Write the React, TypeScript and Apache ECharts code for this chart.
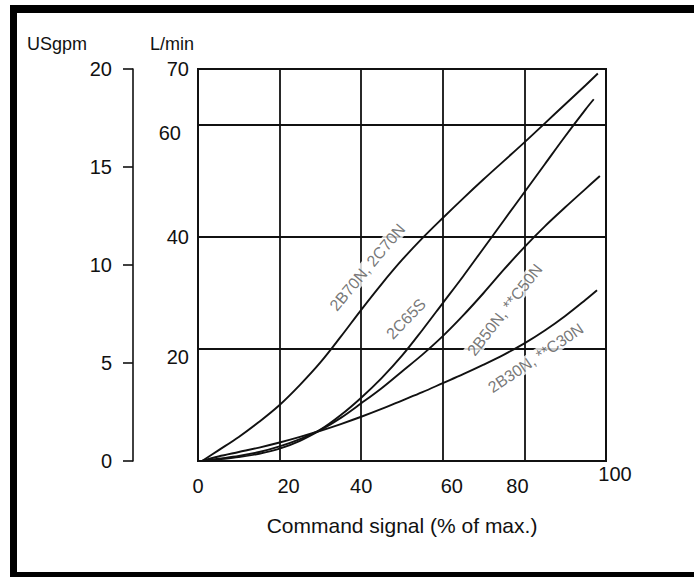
import { useEffect, useRef } from 'react';
import * as echarts from 'echarts';

const FONT = '"Liberation Sans", Arial, Helvetica, sans-serif';
const INK = '#111';
const TEXT = '#111';

// Command signal (% of max.) vs flow (L/min)
const x2B70N = [1, 5, 10, 15, 20, 25, 30, 35, 40, 45, 50, 55, 60, 65, 70, 75, 80, 85, 90, 95, 98];
const y2B70N = [0, 1.9, 4.3, 7.0, 10.0, 13.6, 17.6, 22.2, 27.0, 31.6, 35.9, 39.8, 43.4, 46.9, 50.3, 53.6, 56.9, 60.3, 63.7, 67.1, 69.2];

const x2C65S = [1, 5, 10, 15, 20, 25, 30, 35, 40, 45, 50, 55, 60, 65, 70, 75, 80, 85, 90, 95, 97];
const y2C65S = [0, 0.4, 0.9, 1.6, 2.6, 3.9, 5.6, 8.2, 11.3, 14.8, 18.8, 23.4, 28.2, 33.0, 38.0, 43.0, 48.0, 53.0, 58.0, 62.8, 64.6];

const x2B50N = [1, 5, 10, 15, 20, 25, 30, 35, 40, 45, 50, 55, 60, 65, 70, 75, 80, 85, 90, 95, 98.5];
const y2B50N = [0, 0.3, 0.7, 1.3, 2.2, 3.6, 5.5, 7.7, 10.3, 13.0, 16.0, 19.0, 22.3, 26.0, 30.0, 34.2, 38.2, 41.9, 45.3, 48.6, 50.9];

const x2B30N = [1, 5, 10, 15, 20, 25, 30, 35, 40, 45, 50, 55, 60, 65, 70, 75, 80, 85, 90, 95, 97.8];
const y2B30N = [0, 0.8, 1.6, 2.4, 3.3, 4.3, 5.4, 6.6, 7.9, 9.3, 10.8, 12.3, 13.9, 15.5, 17.2, 19.0, 21.0, 23.3, 25.9, 28.8, 30.5];

const curveNames = ['2B70N, 2C70N', '2C65S', '2B50N, **C50N', '2B30N, **C30N'];
const curveX = [x2B70N, x2C65S, x2B50N, x2B30N];
const curveY = [y2B70N, y2C65S, y2B50N, y2B30N];

// label anchors (data coordinates) and text angles
const labelX = [41.5, 51, 75.2, 82.8];
const labelY = [34.6, 25.4, 27.0, 18.4];
const labelAngle = [50, 46, 52, 34];

const xMin = 0, xMax = 100, xStep = 20;
const lpmMin = 0, lpmMax = 70, lpmStep = 20;
const gpmMin = 0, gpmMax = 20, gpmStep = 5;

const titleGpm = 'USgpm';
const titleLpm = 'L/min';
const xTitle = 'Command signal (% of max.)';

function buildOption() {
  const lineSeries = curveNames.map((name, i) => ({
    name,
    type: 'line',
    xAxisIndex: 0,
    yAxisIndex: 0,
    data: curveX[i].map((x, j) => [x, curveY[i][j]]),
    smooth: 0.35,
    showSymbol: false,
    symbol: 'none',
    silent: true,
    lineStyle: { color: INK, width: 1.9 },
    z: 3,
  }));

  const labelSeries = {
    type: 'scatter',
    xAxisIndex: 0,
    yAxisIndex: 0,
    silent: true,
    symbolSize: 1,
    itemStyle: { color: 'rgba(0,0,0,0)' },
    z: 4,
    data: curveNames.map((name, i) => ({
      value: [labelX[i], labelY[i]],
      label: {
        show: true,
        formatter: name,
        rotate: labelAngle[i],
        position: 'inside',
        color: '#555',
        fontSize: 16,
        fontFamily: FONT,
        backgroundColor: '#fff',
        padding: [0, 3],
      },
    })),
  };

  const xRich = (pad: number[]) => ({ fontSize: 20, color: TEXT, fontFamily: FONT, padding: pad });

  return {
    animation: false,
    backgroundColor: '#fff',
    textStyle: { fontFamily: FONT },
    grid: {
      left: 198,
      top: 69,
      right: 88,
      bottom: 116,
      show: true,
      borderColor: INK,
      borderWidth: 2,
      backgroundColor: 'transparent',
      containLabel: false,
      outerBoundsMode: 'none',
    },
    xAxis: {
      type: 'value',
      min: xMin,
      max: xMax,
      interval: xStep,
      name: xTitle,
      nameLocation: 'middle',
      nameGap: 54,
      nameTextStyle: { fontSize: 21, color: TEXT, fontFamily: FONT },
      axisLine: { show: true, onZero: false, lineStyle: { color: INK, width: 2 } },
      axisTick: { show: false },
      splitLine: { show: true, lineStyle: { color: INK, width: 1.8 } },
      axisLabel: {
        margin: 3,
        color: TEXT,
        fontSize: 20,
        fontFamily: FONT,
        formatter: (v: number) => {
          if (v === 100) return `{h|${v}}`;
          if (v === 20 || v === 60) return `{r|${v}}`;
          if (v === 80) return `{l|${v}}`;
          return `{n|${v}}`;
        },
        rich: {
          n: xRich([12, 0, 0, 0]),
          r: xRich([12, 0, 0, 18]),
          l: xRich([12, 14, 0, 0]),
          h: xRich([0, 0, 0, 18]),
        },
      },
    },
    yAxis: [
      {
        type: 'value',
        min: lpmMin,
        max: lpmMax,
        interval: lpmStep,
        position: 'left',
        axisLine: { show: true, onZero: false, lineStyle: { color: INK, width: 2 } },
        axisTick: { show: false },
        splitLine: { show: true, lineStyle: { color: INK, width: 1.8 } },
        axisLabel: {
          margin: 9,
          color: TEXT,
          fontSize: 20,
          fontFamily: FONT,
          formatter: (v: number) => {
            if (v === 0) return '';
            if (v === 60) return `{s|${v}}`;
            if (v === 20) return `{d|${v}}`;
            return `{n|${v}}`;
          },
          rich: {
            n: { fontSize: 20, color: TEXT, fontFamily: FONT },
            s: { fontSize: 20, color: TEXT, fontFamily: FONT, padding: [16, 8, 0, 0] },
            d: { fontSize: 20, color: TEXT, fontFamily: FONT, padding: [16, 0, 0, 0] },
          },
        },
      },
      {
        type: 'value',
        min: gpmMin,
        max: gpmMax,
        interval: gpmStep,
        position: 'left',
        offset: 65,
        axisLine: { show: true, onZero: false, lineStyle: { color: INK, width: 1.6 } },
        axisTick: { show: true, length: 10, lineStyle: { color: INK, width: 1.6 } },
        splitLine: { show: false },
        axisLabel: { margin: 21, color: TEXT, fontSize: 20, fontFamily: FONT },
      },
    ],
    graphic: [
      { type: 'rect', shape: { x: 10, y: 5, width: 684, height: 8 }, style: { fill: '#000' }, silent: true },
      { type: 'rect', shape: { x: 10, y: 5, width: 7, height: 572 }, style: { fill: '#000' }, silent: true },
      { type: 'rect', shape: { x: 10, y: 572, width: 684, height: 5 }, style: { fill: '#000' }, silent: true },
      {
        type: 'text',
        left: 27,
        top: 35,
        silent: true,
        style: { text: titleGpm, fill: TEXT, fontSize: 18, fontFamily: FONT },
      },
      {
        type: 'text',
        left: 150,
        top: 35,
        silent: true,
        style: { text: titleLpm, fill: TEXT, fontSize: 18, fontFamily: FONT },
      },
    ],
    series: [...lineSeries, labelSeries],
  };
}

export default function App() {
  const ref = useRef<HTMLDivElement>(null);
  useEffect(() => {
    if (!ref.current) return;
    const chart = echarts.init(ref.current, null, { renderer: 'svg' });
    chart.setOption(buildOption() as any);
    return () => chart.dispose();
  }, []);
  return (
    <div
      ref={ref}
      style={{ position: 'fixed', left: 0, top: 0, width: 694, height: 577, background: '#fff' }}
    />
  );
}
